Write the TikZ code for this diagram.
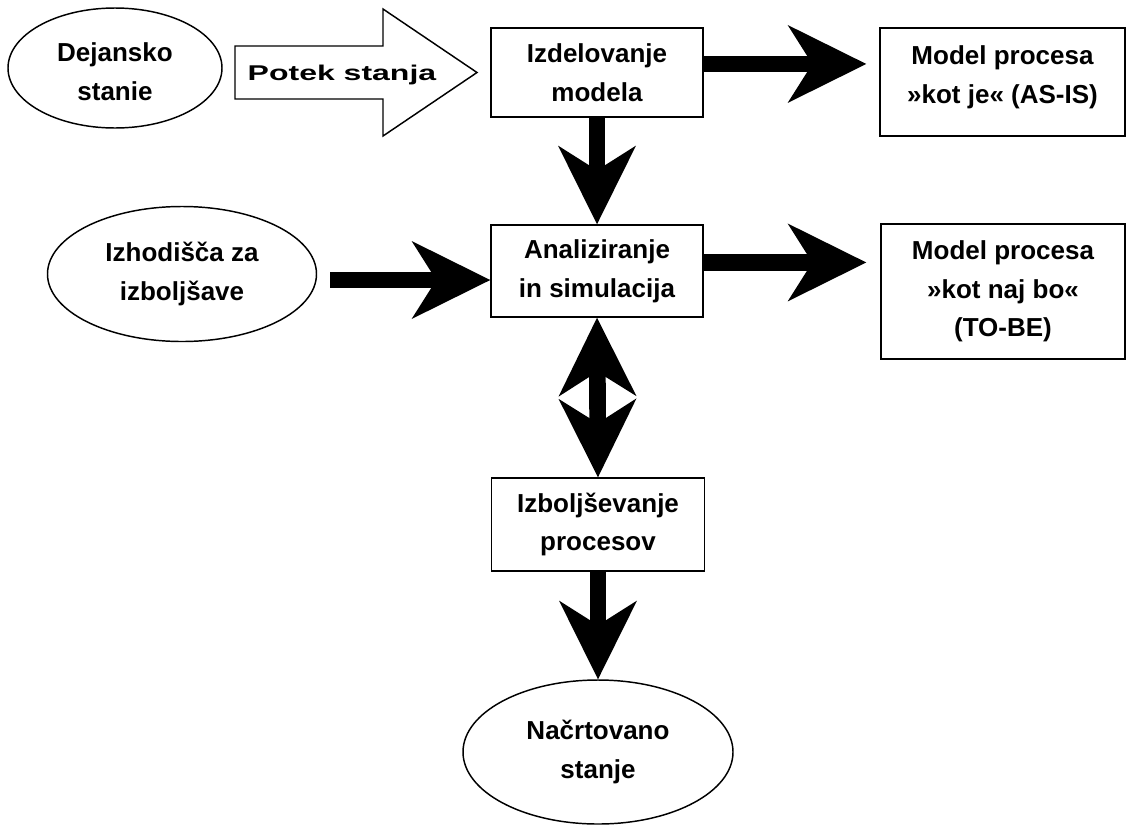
\documentclass[tikz,border=0pt]{standalone}
\usepackage{fontspec}
\usepackage{graphicx}
\setmainfont{Liberation Sans}
\usetikzlibrary{arrows.meta,shapes.geometric,calc}
\tikzset{
  txt/.style={font=\fontsize{19.5pt}{29pt}\selectfont\bfseries, align=center, inner sep=0pt},
  box/.style={txt, draw, line width=1.1pt, fill=white, rectangle},
  oval/.style={txt, draw, line width=1.1pt, fill=white, ellipse},
  bigtip/.tip={Stealth[length=59pt,width=58.5pt,inset=18.5pt,line width=0pt]},
  bigarrow/.style={line width=12.5pt, -bigtip},
  dblarrow/.style={line width=12.5pt, bigtip-bigtip},
  hollow/.style={draw, line width=1.1pt, fill=white, line join=miter},
}
\begin{document}
\begin{tikzpicture}[x=0.75pt,y=-0.75pt]
\fill[white] (0,0) rectangle (1127,825);
\useasboundingbox (0,0) rectangle (1127,825);

% nodes
\node[oval, minimum width=160.5pt, minimum height=90pt,
      label={[txt, yshift=-3pt]center:{Dejansko\\stanie}}] (dej) at (115,68) {};
\node[box, minimum width=159pt, minimum height=66.75pt] (izd) at (597,72.5) {Izdelovanje\\modela};
\node[box, minimum width=183.75pt, minimum height=81pt,
      label={[txt, yshift=3.6pt]center:{Model procesa\\»kot je« (AS-IS)}}] (asis) at (1002.5,82) {};
\node[oval, minimum width=201.75pt, minimum height=101.25pt] (izh) at (182,274) {Izhodišča za\\izboljšave};
\node[box, minimum width=159pt, minimum height=69pt] (ana) at (597,271) {Analiziranje\\in simulacija};
\node[box, minimum width=183pt, minimum height=101.25pt] (tobe) at (1003,291.5) {Model procesa\\»kot naj bo«\\(TO-BE)};
\node[box, minimum width=159.75pt, minimum height=69.75pt] (izb) at (598,524.5) {Izboljševanje\\procesov};
\node[oval, minimum width=202.5pt, minimum height=108pt] (nac) at (598,752) {Načrtovano\\stanje};

% hollow arrow
\draw[hollow] (235,46) -- (383,46) -- (383,9) -- (477,72.5) -- (383,136) -- (383,99) -- (235,99) -- cycle;
\node[font=\fontsize{16pt}{20pt}\selectfont\bfseries, inner sep=0pt] (potek) at (342,75) {\scalebox{1.5}[1]{Potek stanja}};

% connectors
\draw[bigarrow, shorten >=9.75pt] ([yshift=6.4pt]izd.east) -- ([yshift=6.4pt]izd.east -| asis.west);
\draw[bigarrow, shorten >=10.5pt] ([yshift=6.4pt]ana.east) -- ([yshift=6.4pt]ana.east -| tobe.west);
\draw[bigarrow] ([yshift=-6.75pt]ana.west -| izh.east) ++(9.75pt,0) -- ([yshift=-6.75pt]ana.west);
\draw[bigarrow] (izd.south) -- (ana.north);
\draw[dblarrow] (ana.south) -- (izb.north);
\draw[bigarrow] (izb.south) -- (nac.north);
\end{tikzpicture}
\end{document}
